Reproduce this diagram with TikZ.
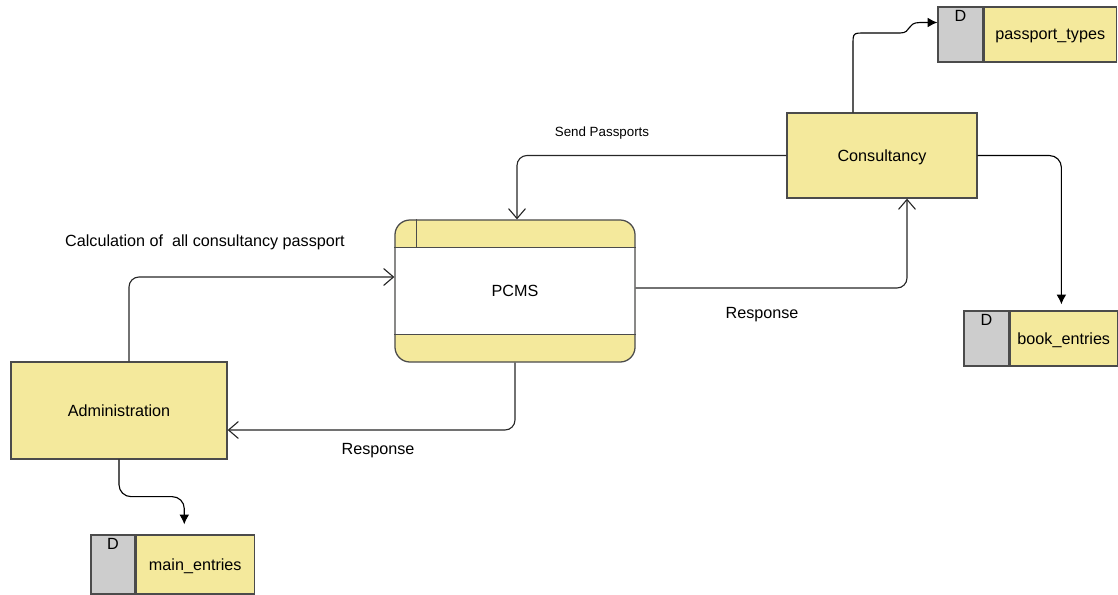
\documentclass[tikz,border=0pt]{standalone}
\usepackage{fontspec}
\setmainfont{Liberation Sans}
\usetikzlibrary{positioning,arrows.meta}

\definecolor{dfdyel}{RGB}{244,233,156}
\definecolor{dfdgray}{RGB}{205,205,205}
\definecolor{dfdline}{RGB}{75,75,75}

\begin{document}
\begin{tikzpicture}[x=0.025cm,y=-0.025cm,
  box/.style={draw=dfdline,line width=0.9pt,fill=dfdyel,font=\fontsize{11.5}{13}\selectfont,text depth=-1.5pt},
  proc/.style={box,rounded corners=0.375cm,minimum width=6cm,minimum height=3.55cm,
    path picture={\fill[white,sharp corners] ([yshift=-0.7cm]path picture bounding box.north west)
      rectangle ([yshift=0.7cm]path picture bounding box.south east);}},
  dbox/.style={draw=dfdline,line width=0.9pt,fill=dfdgray,minimum width=1.125cm,minimum height=1.375cm,
    inner sep=0pt,label={[anchor=north,inner sep=2.5pt,font=\fontsize{11.5}{13}\selectfont]north:D}},
  store/.style={box,minimum height=1.375cm,inner sep=0pt},
  flow/.style={draw=black!85,line width=0.8pt,rounded corners=0.25cm,-{Straight Barb[length=7pt,width=12pt]}},
  put/.style={draw=black,line width=0.8pt,rounded corners=0.3cm,-{Latex[length=7pt,width=7pt]}},
  lbl/.style={font=\fontsize{11.5}{13}\selectfont},
  sml/.style={font=\fontsize{9.5}{11}\selectfont}]

\useasboundingbox (0,0) rectangle (1118,594);

% processes
\node[proc] (pcms) at (515,291) {PCMS};
\draw[dfdline,line width=0.9pt] ([yshift=-0.7cm]pcms.north west) -- ([yshift=-0.7cm]pcms.north east);
\draw[dfdline,line width=0.9pt] ([yshift=0.7cm]pcms.south west) -- ([yshift=0.7cm]pcms.south east);
\draw[dfdline,line width=0.9pt] ([xshift=0.55cm]pcms.north west) -- ([xshift=0.55cm,yshift=-0.7cm]pcms.north west);

\node[box,minimum width=4.75cm,minimum height=2.125cm] (cons) at (882,155.5) {Consultancy};
\node[box,minimum width=5.4cm,minimum height=2.425cm] (adm) at (119,410.5) {Administration};

% data stores
\node[dbox] (ptd) at (960.5,34.5) {};
\node[store,minimum width=3.3cm,right=0pt of ptd] (ptn) {passport\_types};

\node[dbox] (bed) at (986.5,338.5) {};
\node[store,minimum width=2.675cm,right=0pt of bed] (ben) {book\_entries};

\node[dbox,minimum width=1.1cm,minimum height=1.475cm] (med) at (113,564.5) {};
\node[store,minimum width=2.95cm,minimum height=1.475cm,right=0pt of med] (men) {main\_entries};

% flows
\draw[flow] ([xshift=0.25cm]adm.north) |- ([yshift=0.35cm]pcms.west);
\draw[flow] (pcms.south) |- ([yshift=-0.4875cm]adm.east);
\draw[flow] ([yshift=0.075cm]pcms.east) -| ([xshift=0.625cm]cons.south);
\draw[flow] (cons.west) -| ([xshift=0.05cm]pcms.north);

\draw[put,sharp corners] ([xshift=-0.725cm]cons.north) -- (853,45) .. controls (853,33) .. (865,33)
  -- (900,33) .. controls (912,33) and (906,22.5) .. (920,22.5) -- ([yshift=0.3cm]ptd.west);
\draw[put,shorten >=0.15cm] (cons.east) -| ([xshift=-0.06cm]ben.north);
\draw[put,shorten >=0.25cm] (adm.south) -- ++(0,37) -| ([xshift=-0.275cm]men.north);

% labels
\node[lbl] (calc) at (205,242) {Calculation of\ \ all consultancy passport};
\node[lbl] (resp1) at (378,451) {Response};
\node[lbl] (resp2) at (762,315) {Response};
\node[sml] (send) at (602,133) {Send Passports};

\end{tikzpicture}
\end{document}
